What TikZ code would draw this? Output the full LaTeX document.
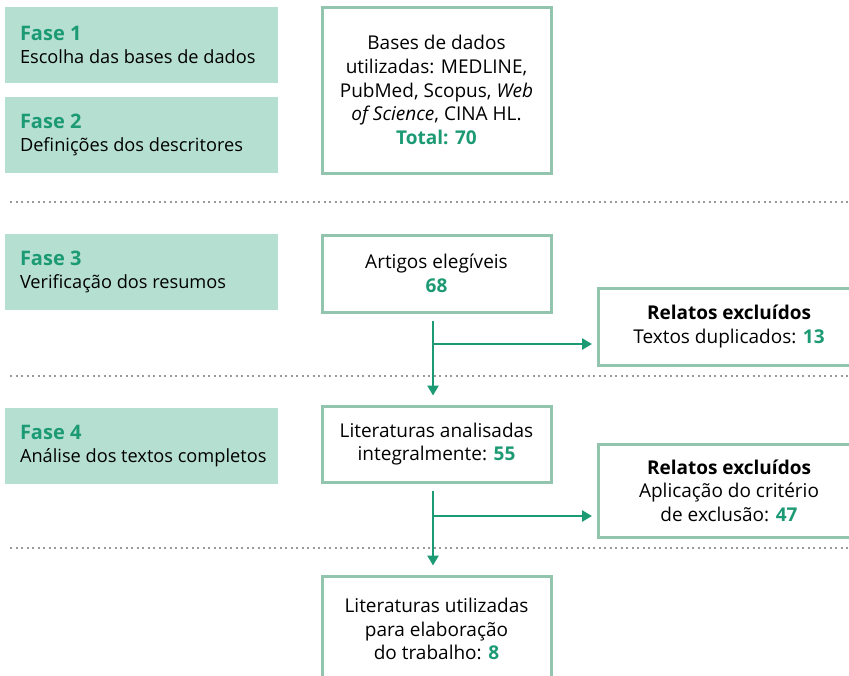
\documentclass[tikz,border=0pt]{standalone}
\usepackage{fontspec}
\setmainfont{Open Sans}
\usetikzlibrary{arrows.meta}
\definecolor{verde}{HTML}{1C9A73}
\definecolor{menta}{HTML}{B5DFD0}
\definecolor{borda}{HTML}{93C5AE}
\definecolor{pontos}{HTML}{9A9A9A}
\newcommand{\num}[1]{{\bfseries\color{verde}#1}}
\newcommand{\fase}[2]{{\fontsize{10}{11.6}\selectfont\num{#1}}\\\mbox{#2}}
\begin{document}
\begin{tikzpicture}[x=0.5pt,y=-0.5pt]

    \tikzset{
      fasebox/.style={
        fill=menta,
        inner xsep=7.5pt,
        text width=121.5pt,
        minimum height=38pt,
        align=flush left,
        font=\fontsize{9.1}{11.6}\selectfont,
      },
      etapa/.style={
        draw=borda,
        fill=white,
        line width=1.5pt,
        minimum width=114.5pt,
        align=center,
        font=\fontsize{9.5}{11.8}\selectfont,
      },
      excluido/.style={
        etapa,
        minimum width=131pt,
      },
      divisor/.style={
        color=pontos,
        line width=1pt,
        dash pattern=on 1pt off 1.75pt,
      },
      seta/.style={
        color=verde,
        line width=1.25pt,
        -{Triangle[width=5.5pt,length=5pt]},
      },
    }
    \useasboundingbox (0,0) rectangle (849,675);
    \clip (0,0) rectangle (849,675);

	% fases
	\node[fasebox] (f1) at (141.5,45) {\fase{Fase 1}{Escolha das bases de dados}};
	\node[fasebox] (f2) at (141.5,135) {\fase{Fase 2}{Definições dos descritores}};
	\node[fasebox] (f3) at (141.5,272) {\fase{Fase 3}{Verificação dos resumos}};
	\node[fasebox] (f4) at (141.5,446) {\fase{Fase 4}{Análise dos textos completos}};

	% etapas
	\node[etapa,minimum height=83pt] (base) at (436.5,90) {Bases de dados\\utilizadas: MEDLINE,\\PubMed, Scopus, \textit{Web}\\\textit{of Science}, CINA HL.\\\num{Total: 70}};
	\node[etapa,minimum height=38.5pt] (art) at (436.5,273.5) {Artigos elegíveis\\\num{68}};
	\node[etapa,minimum height=38pt] (lit) at (436.5,444) {Literaturas analisadas\\integralmente: \num{55}};
	\node[etapa,minimum height=53pt] (fim) at (436.5,629) {Literaturas utilizadas\\para elaboração\\do trabalho: \num{8}};

	% excluidos
	\node[excluido,minimum height=38.5pt] (rel1) at (729,326.5) {\textbf{Relatos excluídos}\\Textos duplicados: \num{13}};
	\node[excluido,minimum height=46.5pt] (rel2) at (729,490.5) {\textbf{Relatos excluídos}\\Aplicação do critério\\de exclusão: \num{47}};

	\draw[divisor] (10,202)--(849,202);
	\draw[divisor] (10,376)--(849,376);
	\draw[divisor] (10,548)--(849,548);

	\coordinate (v1) at ([xshift=-1.75pt]art.south);
	\coordinate (v2) at ([xshift=-1.75pt]lit.south);
	\coordinate (w1) at ([xshift=-1.75pt]lit.north);
	\coordinate (w2) at ([xshift=-1.75pt]fim.north);
	\coordinate (b1) at (v1 |- 0,344);
	\coordinate (b2) at (v2 |- 0,516);
	\draw[seta,shorten <=3.5pt,shorten >=4.5pt] (v1)--(w1);
	\draw[seta,shorten <=3.5pt,shorten >=4.5pt] (v2)--(w2);
	\draw[seta,shorten >=2.25pt] (b1)--(b1 -| rel1.west);
	\draw[seta,shorten >=2.25pt] (b2)--(b2 -| rel2.west);

\end{tikzpicture}
\end{document}
